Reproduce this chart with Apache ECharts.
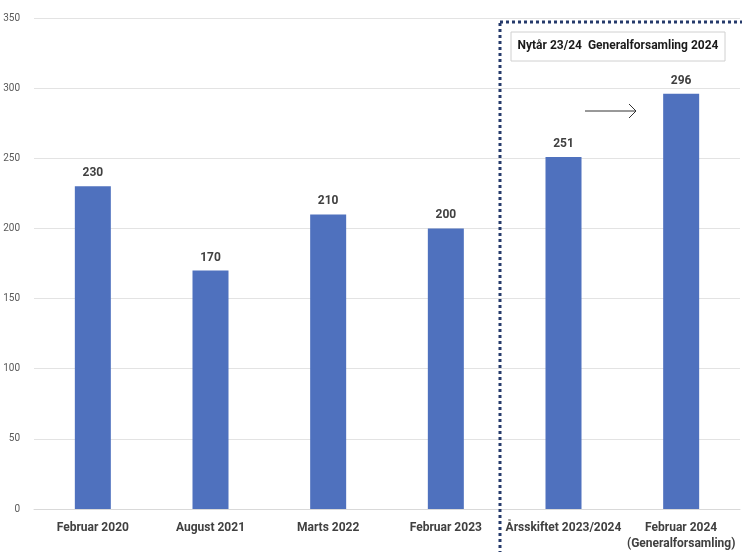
<!DOCTYPE html>
<html>
<head>
<meta charset="utf-8">
<script src="https://cdn.jsdelivr.net/npm/echarts@6/dist/echarts.min.js"></script>
<style>
html,body{margin:0;padding:0;background:#fff;}
#c{width:742px;height:552px;}
</style>
</head>
<body>
<div id="c"></div>
<script>
const categories = ['Februar 2020', 'August 2021', 'Marts 2022', 'Februar 2023', 'Årsskiftet 2023/2024', 'Februar 2024\n(Generalforsamling)'];
const values = [230, 170, 210, 200, 251, 296];
const yTicks = { min: 0, max: 350, interval: 50 };
const boxLabel = 'Nytår 23/24  Generalforsamling 2024';

const FONT = '"Liberation Sans Narrow", "Roboto", sans-serif';
const chart = echarts.init(document.getElementById('c'), null, { renderer: 'canvas' });
chart.setOption({
  animation: false,
  backgroundColor: '#ffffff',
  grid: { left: 34, right: 2, top: 18, bottom: 42, containLabel: false },
  xAxis: {
    type: 'category',
    data: categories,
    axisLine: { lineStyle: { color: '#d9d9d9', width: 1 } },
    axisTick: { show: false },
    axisLabel: { color: '#404040', fontFamily: FONT, fontWeight: 'bold', fontSize: 12, margin: 11, lineHeight: 16, interval: 0 }
  },
  yAxis: {
    type: 'value',
    min: yTicks.min, max: yTicks.max, interval: yTicks.interval,
    axisLine: { show: false },
    axisTick: { show: false },
    splitLine: { lineStyle: { color: '#e3e3e3', width: 1 } },
    axisLabel: { color: '#595959', fontFamily: FONT, fontSize: 10, margin: 14 }
  },
  series: [{
    type: 'bar',
    data: values,
    barWidth: 36,
    itemStyle: { color: '#4f71be' },
    label: { show: true, position: 'top', distance: 7, color: '#404040', fontFamily: FONT, fontWeight: 'bold', fontSize: 12 }
  }],
  graphic: [
    { type: 'rect', z: 10, shape: { x: 500, y: 22, width: 320, height: 600 },
      style: { fill: 'none', stroke: '#253a6b', lineWidth: 3, lineDash: [3, 3] } },
    { type: 'rect', z: 10, shape: { x: 511, y: 32, width: 214, height: 29 },
      style: { fill: '#ffffff', stroke: '#d0d0d0', lineWidth: 1 } },
    { type: 'text', z: 11, x: 618, y: 46,
      style: { text: boxLabel, fill: '#1a1a1a', font: 'bold 12px ' + FONT, textAlign: 'center', textVerticalAlign: 'middle' } },
    { type: 'line', z: 11, shape: { x1: 585, y1: 111, x2: 636, y2: 111 }, style: { stroke: '#333', lineWidth: 1 } },
    { type: 'polyline', z: 11, shape: { points: [[629, 104], [636, 111], [629, 118]] }, style: { stroke: '#333', lineWidth: 1, fill: 'none' } }
  ]
});
</script>
</body>
</html>
